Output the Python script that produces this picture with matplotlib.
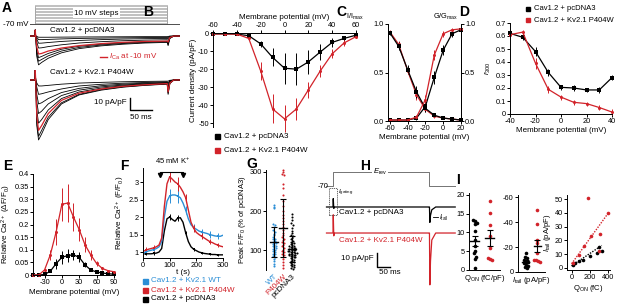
import numpy as np
import matplotlib
matplotlib.use("Agg")
import matplotlib.pyplot as plt
from matplotlib.patches import Rectangle

plt.rcParams["font.family"] = ["Liberation Sans", "DejaVu Sans"]
plt.rcParams["mathtext.fontset"] = "custom"
plt.rcParams["mathtext.rm"] = "Liberation Sans"
plt.rcParams["mathtext.it"] = "Liberation Sans:italic"
plt.rcParams["mathtext.bf"] = "Liberation Sans:bold"
plt.rcParams["axes.unicode_minus"] = False
plt.rcParams["axes.linewidth"] = 0.7

RED = "#d2232a"
BLUE = "#2b8ed6"
W, H = 617, 304
TICK = 5.3
LAB = 5.8

# ---------------- data ----------------
# A: voltage protocol and example current traces (ms, pA/pF)
prot_levels = [-60, -50, -40, -30, -20, -10, 0, 10, 20, 30, 40, 50, 60]
prot_hold = -70
step_dur = 300
a_t = [-10, 0, 0.5, 1.5, 4, 8, 15, 30, 60, 100, 150, 200, 250, 300, 302, 306, 315, 329]
a_pcdna = [
    [0, 0, 5, 0, -17, -24, -22, -18.5, -14, -10.5, -8.2, -6.8, -5.8, -5.3, -8, -2, 0, 0],
    [0, 0, 5, 0, -15, -21, -19.5, -16.5, -12.5, -9.5, -7.5, -6.2, -5.3, -4.8, -7, -1.8, 0, 0],
    [0, 0, 5, 0, -12, -18, -17, -14.5, -11, -8.5, -6.8, -5.6, -4.8, -4.4, -6, -1.5, 0, 0],
    [0, 0, 5, 0, -5, -10, -9.8, -8.8, -7.3, -5.8, -4.7, -3.9, -3.4, -3.1, -3.5, -0.8, 0, 0],
    [0, 0, 5, 0, -2.5, -6, -5.9, -5.4, -4.5, -3.7, -3, -2.5, -2.2, -2, -2, -0.5, 0, 0],
    [0, 0, 5, 0, -1, -3, -3, -2.8, -2.4, -2, -1.7, -1.5, -1.3, -1.2, -1, -0.3, 0, 0],
    [0, 0, 5, 0, -0.3, -1, -1, -1, -0.9, -0.8, -0.7, -0.6, -0.5, -0.5, -0.4, 0, 0, 0],
]
a_pcdna_m10 = [0, 0, 5, 0, -9, -15, -14.5, -12.5, -10, -8, -6.3, -5.2, -4.5, -4.2, -5, -1.2, 0, 0]
a_p404w = [
    [0, 0, 8, 0, -38, -50, -45, -33, -20, -12.5, -8.5, -6, -4.5, -3.5, -12, -3, 0, 0],
    [0, 0, 8, 0, -35, -47, -42, -31, -19, -12, -8, -5.7, -4.3, -3.3, -11, -2.8, 0, 0],
    [0, 0, 8, 0, -25, -36, -33, -25, -15.5, -10, -6.8, -4.8, -3.6, -2.8, -8, -2, 0, 0],
    [0, 0, 8, 0, -18, -28, -26, -20, -13, -8.5, -5.8, -4.2, -3.2, -2.5, -6, -1.5, 0, 0],
    [0, 0, 8, 0, -12, -20, -19, -15.5, -10.5, -7, -4.8, -3.5, -2.7, -2.1, -4, -1, 0, 0],
    [0, 0, 8, 0, -6, -12, -11.5, -10, -7.5, -5, -3.6, -2.7, -2.1, -1.6, -2.5, -0.6, 0, 0],
    [0, 0, 8, 0, -2.5, -5, -5, -4.5, -3.5, -2.6, -2, -1.5, -1.2, -1, -1, -0.3, 0, 0],
]
a_p404w_m10 = [0, 0, 8, 0, -30, -42, -38, -28, -17, -11, -7.5, -5.3, -4, -3, -10, -2.5, 0, 0]

# B: I-V
iv_v = [-60, -50, -40, -30, -20, -10, 0, 10, 20, 30, 40, 50, 60]
iv_pcdna = [-0.5, -0.5, -0.6, -1.5, -6, -13.5, -19.5, -20, -16, -10.5, -5.2, -3, -1.2]
iv_pcdna_err = [0.3, 0.3, 0.3, 0.8, 1.5, 5, 8.5, 9, 6.5, 4.5, 2.5, 1.5, 1]
iv_p404w = [-0.5, -0.5, -0.6, -3, -21, -42, -47.5, -42, -31.5, -21, -11.5, -5.5, -2]
iv_p404w_err = [0.3, 0.3, 0.3, 1, 5, 8, 7.5, 6, 4.5, 3.5, 2.5, 1.5, 1]

# C: availability (I/Imax) and activation (G/Gmax)
c_v = [-60, -50, -40, -30, -20, -10, 0, 10, 20]
inact_pcdna = [0.91, 0.77, 0.53, 0.3, 0.13, 0.06, 0.03, 0.02, 0.01]
inact_pcdna_err = [0.02, 0.04, 0.05, 0.06, 0.04, 0.02, 0.01, 0.01, 0.01]
inact_p404w = [0.92, 0.79, 0.52, 0.27, 0.12, 0.05, 0.03, 0.02, 0.01]
inact_p404w_err = [0.02, 0.03, 0.04, 0.05, 0.03, 0.02, 0.01, 0.01, 0.01]
act_pcdna = [0.01, 0.01, 0.01, 0.03, 0.15, 0.45, 0.73, 0.9, 0.94]
act_pcdna_err = [0.01, 0.01, 0.01, 0.02, 0.05, 0.07, 0.05, 0.03, 0.02]
act_p404w = [0.01, 0.01, 0.01, 0.04, 0.22, 0.68, 0.9, 0.94, 0.95]
act_p404w_err = [0.01, 0.01, 0.01, 0.02, 0.05, 0.05, 0.03, 0.02, 0.02]

# D: r300
d_v = [-40, -30, -20, -10, 0, 10, 20, 30, 40]
r300_pcdna = [0.62, 0.59, 0.48, 0.32, 0.205, 0.2, 0.185, 0.185, 0.28]
r300_pcdna_err = [0.02, 0.02, 0.035, 0.03, 0.02, 0.02, 0.015, 0.025, 0.02]
r300_p404w = [0.61, 0.63, 0.39, 0.19, 0.13, 0.09, 0.08, 0.05, 0.015]
r300_p404w_err = [0.02, 0.02, 0.04, 0.025, 0.02, 0.02, 0.015, 0.02, 0.02]

# E: Ca2+ vs voltage
e_v = [-50, -40, -30, -20, -10, 0, 10, 20, 30, 40, 50, 60, 70, 80, 90]
e_pcdna = [0, 0, 0.002, 0.015, 0.045, 0.07, 0.077, 0.08, 0.07, 0.04, 0.02, 0.012, 0.008, 0.005, 0.003]
e_pcdna_err = [0, 0, 0.002, 0.005, 0.02, 0.025, 0.025, 0.02, 0.02, 0.01, 0.006, 0.004, 0.003, 0.002, 0.002]
e_p404w = [0, 0, 0.02, 0.08, 0.17, 0.28, 0.285, 0.23, 0.18, 0.12, 0.08, 0.046, 0.026, 0.017, 0.013]
e_p404w_err = [0, 0, 0.005, 0.02, 0.05, 0.065, 0.075, 0.055, 0.045, 0.03, 0.02, 0.01, 0.006, 0.004, 0.003]

# F: Ca2+ time course (s)
f_t = [0, 10, 20, 30, 40, 50, 60, 70, 80, 90, 100, 110, 120, 130, 140, 150,
       160, 170, 180, 190, 200, 210, 220, 230, 240, 250, 260, 270, 280, 290, 300]
f_wt = [0.95, 1.0, 1.03, 1.05, 1.07, 1.1, 1.15, 1.3, 2.0, 2.45, 2.6, 2.63, 2.63, 2.6, 2.55, 2.4,
        2.2, 1.95, 1.78, 1.7, 1.65, 1.6, 1.57, 1.55, 1.53, 1.5, 1.48, 1.46, 1.45, 1.45, 1.48]
f_p404w = [1.02, 1.05, 1.08, 1.1, 1.12, 1.15, 1.2, 1.4, 2.3, 2.95, 3.15, 3.08, 3.0, 2.95, 2.85, 2.72,
           2.55, 2.2, 1.85, 1.68, 1.56, 1.5, 1.45, 1.4, 1.35, 1.3, 1.27, 1.23, 1.2, 1.17, 1.15]
f_pcdna = [0.95, 0.95, 0.95, 0.95, 0.96, 0.97, 1.0, 1.1, 1.6, 1.95, 2.0, 1.93, 1.88, 1.97, 1.98, 1.85,
           1.55, 1.3, 1.15, 1.08, 1.04, 1.0, 0.98, 0.96, 0.95, 0.94, 0.93, 0.93, 0.92, 0.92, 0.92]
f_err_t = [10, 40, 100, 130, 160, 190, 220, 250, 280]
f_wt_err = [0.05, 0.05, 0.2, 0.2, 0.12, 0.1, 0.1, 0.1, 0.08]
f_p404w_err = [0.08, 0.08, 0.15, 0.2, 0.12, 0.1, 0.08, 0.07, 0.06]
f_pcdna_err = [0.04, 0.04, 0.08, 0.08, 0.06, 0.04, 0.03, 0.02, 0.02]
k_on, k_off = 65, 150

# G: peak F/F0 (% of pcDNA3)
g_wt = [215, 210, 207, 168, 165, 160, 152, 148, 142, 138, 135, 130, 128, 125, 122, 120, 118, 116,
        114, 112, 110, 108, 106, 104, 100, 98, 95, 92, 90, 86, 82, 78, 72, 65, 60]
g_p404w = [305, 300, 296, 292, 270, 258, 240, 225, 212, 200, 190, 182, 175, 168, 160, 152, 145,
           140, 135, 130, 126, 122, 118, 114, 110, 106, 102, 98, 95, 92, 88, 84, 78, 70, 62, 55]
g_pcdna = [192, 185, 178, 170, 165, 158, 150, 145, 140, 136, 132, 128, 125, 122, 120, 118, 116, 114,
           112, 110, 109, 108, 106, 105, 104, 103, 102, 101, 100, 99, 98, 97, 96, 95, 94, 93, 92,
           91, 90, 89, 88, 87, 86, 85, 84, 82, 80, 78, 76, 74, 72, 70, 68, 66, 64, 62, 60, 58, 55, 52]
g_names = ["WT", "P404W", "pcDNA3"]

# H: gating / tail currents
h_prot_t = [-25, 0, 0, 370, 370, 470]
h_prot_v = [-70, -70, 60, 60, -70, -70]
h_t = [-25, 0, 1, 3, 6, 370, 371, 372.5, 375, 380, 395, 470]
h_pcdna = [0, 0, 6, -1, 0, 0, 0, -11, -6, -2, 0, 0]
h_p404w = [0, 0, 13, -2, 0, 0, 0, -37, -20, -5, 0, 0]

# I: QON, Itail and their relation
i_qon_pcdna = [13.2, 13.0, 12.6, 12.2, 10.5, 8.0, 6.5, 5.0, 4.5, 3.5, 3.0, 0.5]
i_qon_p404w = [18.3, 15.1, 12.0, 9.0, 5.8, 3.2, 2.8, 2.6]
i_tail_pcdna = [-15, -12, -11, -10, -9, -8, -7, -6, -5, -4, -3]
i_tail_p404w = [-50, -39, -26, -23, -15, -10, -9.5, -9, -8]
i_q_pcdna = [20, 40, 80, 120, 200, 280, 300, 330]
i_it_pcdna = [2.4, 3.6, 5, 6, 8.5, 11, 15.5, 12]
i_q_p404w = [20, 80, 140, 180, 212, 308, 300, 400]
i_it_p404w = [3.6, 9.7, 15.7, 50.7, 23, 25, 12, 39.8]
fit_pcdna = (0.045, 1.5)   # slope, intercept
fit_p404w = (0.092, 3.0)


# ---------------- helpers ----------------
fig = plt.figure(figsize=(6.17, 3.04), dpi=100)


def px_axes(x0, y0, x1, y1):
    return fig.add_axes([x0 / W, 1 - y1 / H, (x1 - x0) / W, (y1 - y0) / H])


def ftext(x, y, s, **kw):
    kw.setdefault("fontsize", LAB)
    kw.setdefault("va", "center")
    fig.text(x / W, 1 - y / H, s, **kw)


def square(x, y, color, s=5):
    fig.add_artist(Rectangle(((x - s / 2) / W, 1 - (y + s / 2) / H), s / W, s / H,
                             transform=fig.transFigure, color=color))


def style(ax):
    for s in ["top", "right"]:
        ax.spines[s].set_visible(False)
    ax.tick_params(length=2, width=0.7, labelsize=TICK, pad=1)


def eb(ax, x, y, e, color, marker="s", ms=2.2, line=True):
    c = ax.errorbar(x, y, yerr=e, fmt=("-" if line else "") + marker, color=color, ms=ms,
                    lw=0.9, elinewidth=0.7, capsize=1.3, capthick=0.7, mew=0)
    for art in c.get_children():
        art.set_clip_on(False)
    return c


def spread(vals, binw, dx):
    v = np.asarray(vals, float)
    keys = np.round(v / binw)
    offs = np.zeros(len(v))
    for k in np.unique(keys):
        idx = np.where(keys == k)[0]
        offs[idx] = (np.arange(len(idx)) - (len(idx) - 1) / 2) * dx
    return offs


def mean_bar(ax, pos, vals, err, halfw, color="k"):
    m = np.mean(vals)
    ax.plot([pos - halfw, pos + halfw], [m, m], color=color, lw=1.0, clip_on=False)
    c = ax.errorbar(pos, m, yerr=err, fmt="none", ecolor=color, elinewidth=0.8,
                    capsize=2, capthick=0.8)
    for art in c.get_children():
        art.set_clip_on(False)


# ---------------- panel letters ----------------
for lab, x, y in [("A", 2, 8), ("B", 143, 12), ("C", 336, 12), ("D", 459, 12),
                  ("E", 3, 166), ("F", 120, 166), ("G", 246, 164), ("H", 360, 166), ("I", 456, 180)]:
    ftext(x, y, lab, fontsize=10, fontweight="bold", ha="left")

# ---------------- A ----------------
t_lo, t_hi = -11.4, 329
axp = px_axes(30, 3, 180, 27)
axp.set_xlim(t_lo, t_hi)
axp.set_ylim(-90.5, 73.7)
axp.axis("off")
for v in prot_levels:
    axp.plot([0, 0, step_dur, step_dur], [prot_hold, v, v, prot_hold], color="0.65", lw=0.5)
axp.plot([t_lo, t_hi], [prot_hold, prot_hold], color="0.3", lw=0.7)
axp.text(140, 5, "10 mV steps", fontsize=LAB, ha="center", va="center",
         bbox=dict(facecolor="white", edgecolor="none", pad=0.8))
ftext(3, 24, "-70 mV", ha="left")

axa1 = px_axes(30, 28, 180, 70)
axa1.set_xlim(t_lo, t_hi)
axa1.set_ylim(-28.3, 6.7)
axa1.axis("off")
for tr in a_pcdna:
    axa1.plot(a_t, tr, color="k", lw=0.6)
axa1.plot(a_t, a_pcdna_m10, color=RED, lw=0.9)
ftext(50, 31, "Cav1.2 + pcDNA3", ha="left")
fig.add_artist(plt.Line2D([100 / W, 107 / W], [1 - 57 / H, 1 - 57 / H], color=RED, lw=1.0))
ftext(109, 57, r"$I_{\rm Ca}$ at -10 mV", ha="left", color=RED)

axa2 = px_axes(30, 70, 180, 145)
axa2.set_xlim(t_lo, t_hi)
axa2.set_ylim(-54.2, 8.3)
axa2.axis("off")
for tr in a_p404w:
    axa2.plot(a_t, tr, color="k", lw=0.6)
axa2.plot(a_t, a_p404w_m10, color=RED, lw=0.9)
axa2.plot([216, 216, 266], [-15, -25, -25], color="k", lw=1.0)
ftext(50, 73, "Cav1.2 + Kv2.1 P404W", ha="left")
ftext(127, 102, "10 pA/pF", ha="right")
ftext(130, 117, "50 ms", ha="left")

# ---------------- B ----------------
axb = px_axes(213, 33, 356, 127)
axb.set_xlim(-60, 60)
axb.set_ylim(-52, 0)
axb.spines["right"].set_visible(False)
axb.spines["bottom"].set_visible(False)
axb.xaxis.tick_top()
axb.xaxis.set_label_position("top")
axb.tick_params(length=2, width=0.7, labelsize=TICK, pad=1)
axb.set_xticks([-60, -40, -20, 0, 20, 40, 60])
axb.set_yticks([0, -10, -20, -30, -40, -50])
axb.set_xlabel("Membrane potential (mV)", fontsize=LAB, labelpad=2)
axb.set_ylabel("Current density (pA/pF)", fontsize=LAB, labelpad=1)
eb(axb, iv_v, iv_pcdna, iv_pcdna_err, "k", "s")
eb(axb, iv_v, iv_p404w, iv_p404w_err, RED, "o")
square(217, 136, "k")
ftext(224, 136, "Cav1.2 + pcDNA3", ha="left")
square(217, 150, RED)
ftext(224, 150, "Cav1.2 + Kv2.1 P404W", ha="left")

# ---------------- C ----------------
axc = px_axes(388, 24, 461, 121)
axc.set_xlim(-62, 20)
axc.set_ylim(0, 1)
axc.spines["top"].set_visible(False)
axc.tick_params(length=2, width=0.7, labelsize=TICK, pad=1)
axc.set_yticks([0, 0.5, 1.0])
axc.set_yticklabels(["0.0", "0.5", "1.0"])
axc.set_xticks([-60, -40, -20, 0, 20])
axc.set_xlabel("Membrane potential (mV)", fontsize=LAB, labelpad=1)
axc2 = axc.twinx()
axc2.set_ylim(0, 1)
axc2.spines["top"].set_visible(False)
axc2.tick_params(length=2, width=0.7, labelsize=TICK, pad=1)
axc2.set_yticks([0, 0.5, 1.0])
axc2.set_yticklabels(["0.0", "0.5", "1.0"])
eb(axc, c_v, inact_p404w, inact_p404w_err, RED, "o")
eb(axc, c_v, inact_pcdna, inact_pcdna_err, "k", "s")
eb(axc, c_v, act_pcdna, act_pcdna_err, "k", "s")
eb(axc, c_v, act_p404w, act_p404w_err, RED, "o")
ftext(346, 17, r"I/I$_{\rm max}$", ha="left", fontsize=5.3)
ftext(433, 17, r"G/G$_{\rm max}$", ha="left", fontsize=5.3)

# ---------------- D ----------------
axd = px_axes(510, 23, 612, 114)
style(axd)
axd.set_xlim(-40, 40)
axd.set_ylim(0, 0.7)
axd.set_xticks([-40, -20, 0, 20, 40])
axd.set_yticks([0, 0.1, 0.2, 0.3, 0.4, 0.5, 0.6, 0.7])
axd.set_yticklabels(["0", "0.1", "0.2", "0.3", "0.4", "0.5", "0.6", "0.7"])
axd.set_xlabel("Membrane potential (mV)", fontsize=LAB, labelpad=1)
axd.set_ylabel(r"$r_{300}$", fontsize=LAB, labelpad=2)
eb(axd, d_v, r300_pcdna, r300_pcdna_err, "k", "s")
eb(axd, d_v, r300_p404w, r300_p404w_err, RED, "o")
square(528, 9, "k", 4.5)
ftext(534, 9, "Cav1.2 + pcDNA3", ha="left", fontsize=5.5)
square(528, 20, RED, 4.5)
ftext(534, 20, "Cav1.2 + Kv2.1 P404W", ha="left", fontsize=5.5)

# ---------------- E ----------------
axe = px_axes(33, 174, 115, 275)
style(axe)
axe.set_xlim(-50, 92)
axe.set_ylim(0, 0.4)
axe.set_xticks([-30, 0, 30, 60, 90])
axe.set_yticks([0, 0.05, 0.1, 0.15, 0.2, 0.25, 0.3, 0.35, 0.4])
axe.set_yticklabels(["0", "0.05", "0.1", "0.15", "0.2", "0.25", "0.3", "0.35", "0.4"])
axe.set_xlabel("Membrane potential (mV)", fontsize=LAB, labelpad=2)
axe.set_ylabel(r"Relative Ca$^{2+}$ ($\Delta$F/F$_0$)", fontsize=LAB, labelpad=1)
eb(axe, e_v, e_pcdna, e_pcdna_err, "k", "s")
eb(axe, e_v, e_p404w, e_p404w_err, RED, "o")

# ---------------- F ----------------
axf = px_axes(143, 168, 223, 258)
style(axf)
axf.set_xlim(0, 300)
axf.set_ylim(0.83, 3.4)
axf.set_xticks([0, 100, 200, 300])
axf.set_yticks([1, 1.5, 2, 2.5, 3])
axf.set_yticklabels(["1", "1.5", "2", "2.5", "3"])
axf.set_xlabel("t (s)", fontsize=LAB, labelpad=0)
axf.set_ylabel(r"Relative Ca$^{2+}$ (F/F$_0$)", fontsize=LAB, labelpad=1)
for ys, es, col in [(f_pcdna, f_pcdna_err, "k"), (f_wt, f_wt_err, BLUE), (f_p404w, f_p404w_err, RED)]:
    axf.plot(f_t, ys, color=col, lw=1.0)
    sel = [ys[f_t.index(t)] for t in f_err_t]
    eb(axf, f_err_t, sel, es, col, "s", ms=1.8, line=False)
axf.plot([k_on, k_on, k_off, k_off], [3.22, 3.3, 3.3, 3.22], color="k", lw=0.8, clip_on=False)
axf.plot([k_on, k_off], [3.2, 3.2], "kv", ms=3, clip_on=False)
ftext(173, 161, r"45 mM K$^{+}$", ha="center", fontsize=5.5)
square(145, 281, BLUE)
ftext(151, 281, "Cav1.2 + Kv2.1 WT", ha="left", color=BLUE)
square(145, 290, RED)
ftext(151, 290, "Cav1.2 + Kv2.1 P404W", ha="left", color=RED)
square(145, 299, "k")
ftext(151, 299, "Cav1.2 + pcDNA3", ha="left")

# ---------------- G ----------------
axg = px_axes(266, 170, 298, 270)
style(axg)
axg.spines["bottom"].set_visible(False)
axg.set_xlim(-0.9, 2.65)
axg.set_ylim(50, 305)
axg.set_yticks([100, 200, 300])
axg.set_ylabel(r"Peak F/F$_0$ (% of pcDNA3)", fontsize=5.5, labelpad=1)
for i, (vals, col) in enumerate([(g_wt, BLUE), (g_p404w, RED), (g_pcdna, "k")]):
    xs = i + spread(vals, 6, 0.17)
    axg.plot(xs, vals, "o", color=col, ms=1.5, mew=0, clip_on=False)
    mean_bar(axg, i, vals, np.std(vals, ddof=1), 0.45)
axg.set_xticks([0, 1, 2])
axg.set_xticklabels(g_names, rotation=45, ha="right", rotation_mode="anchor", fontsize=LAB)
axg.tick_params(axis="x", length=0, pad=2)
for lbl, col in zip(axg.get_xticklabels(), [BLUE, RED, "k"]):
    lbl.set_color(col)

# ---------------- H ----------------
h_lo, h_hi = (318 - 333) / 0.26, (460 - 333) / 0.26
axhp = px_axes(318, 165, 460, 190)
axhp.set_xlim(h_lo, h_hi)
axhp.set_ylim(-107, 125)
axhp.axis("off")
axhp.plot(h_prot_t, h_prot_v, color="0.45", lw=0.7)
axhp.text(180, 60, r"$E_{\rm rev}$", fontsize=5.5, ha="center", va="center",
          bbox=dict(facecolor="white", edgecolor="none", pad=0.6))
ftext(329, 186, "-70", ha="right", fontsize=5.5)

axh1 = px_axes(318, 190, 460, 225)
axh1.set_xlim(h_lo, h_hi)
axh1.set_ylim(-12.86, 12.14)
axh1.axis("off")
axh1.plot(h_t, h_pcdna, color="k", lw=0.9)

axh2 = px_axes(318, 212, 460, 292)
axh2.set_xlim(h_lo, h_hi)
axh2.set_ylim(-42.1, 15)
axh2.axis("off")
axh2.plot(h_t, h_p404w, color=RED, lw=0.9)
axh2.plot([169, 169, 219], [-14.3, -24.3, -24.3], color="k", lw=1.0)

fig.add_artist(Rectangle((329 / W, 1 - 215 / H), 8 / W, 27 / H, transform=fig.transFigure,
                         fill=False, ls=(0, (1.5, 1)), lw=0.6, ec="0.3"))
ftext(338, 193, r"$I_{\rm gating}$", ha="left", fontsize=4.5)
ftext(339, 212, "Cav1.2 + pcDNA3", ha="left")
ftext(339, 240, "Cav1.2 + Kv2.1 P404W", ha="left", color=RED)
fig.add_artist(plt.Line2D([433 / W, 438 / W], [1 - 217 / H, 1 - 217 / H], color="k", lw=0.6))
ftext(439, 218, r"$I_{\rm tail}$", ha="left", fontsize=4.8)
ftext(374, 258, "10 pA/pF", ha="right")
ftext(379, 273, "50 ms", ha="left")

# ---------------- I ----------------
axi1 = px_axes(469, 193, 500, 270)
style(axi1)
axi1.set_xlim(-0.4, 1.67)
axi1.set_ylim(0, 20.5)
axi1.set_xticks([])
axi1.set_yticks([0, 5, 10, 15, 20])
axi1.set_xlabel(r"Q$_{\rm ON}$ (fC/pF)", fontsize=5.5, labelpad=2)
for i, (vals, col) in enumerate([(i_qon_pcdna, "k"), (i_qon_p404w, RED)]):
    axi1.plot(i + spread(vals, 1.0, 0.16), vals, "o", color=col, ms=2.6, mew=0, clip_on=False)
    mean_bar(axi1, i, vals, np.std(vals, ddof=1) / np.sqrt(len(vals)), 0.3)

axi2 = px_axes(518, 195, 545, 272)
style(axi2)
axi2.set_xlim(-0.67, 1.67)
axi2.set_ylim(0, -62)
axi2.set_xticks([])
axi2.set_yticks([0, -20, -40, -60])
axi2.set_xlabel(r"$I_{\rm tail}$ (pA/pF)", fontsize=5.5, labelpad=2)
for i, (vals, col) in enumerate([(i_tail_pcdna, "k"), (i_tail_p404w, RED)]):
    axi2.plot(i + spread(vals, 3.0, 0.18), vals, "o", color=col, ms=2.6, mew=0, clip_on=False)
    mean_bar(axi2, i, vals, np.std(vals, ddof=1) / np.sqrt(len(vals)), 0.3)

axi3 = px_axes(567, 195, 610, 270)
style(axi3)
axi3.set_xlim(-50, 420)
axi3.set_ylim(-1.5, 53)
axi3.set_xticks([0, 200, 400])
axi3.set_yticks([0, 10, 20, 30, 40, 50])
axi3.set_xlabel(r"Q$_{\rm ON}$ (fC)", fontsize=5.5, labelpad=1)
axi3.set_ylabel(r"$I_{\rm tail}$ (pA/pF)", fontsize=5.5, labelpad=1)
for q, it, fit, col in [(i_q_pcdna, i_it_pcdna, fit_pcdna, "k"), (i_q_p404w, i_it_p404w, fit_p404w, RED)]:
    axi3.plot(q, it, "o", color=col, ms=2.6, mew=0, clip_on=False)
    xs = np.array([0, max(q)])
    axi3.plot(xs, fit[0] * xs + fit[1], ls=(0, (1, 1)), color=col, lw=1.0)

fig.savefig("out.png", dpi=100)
